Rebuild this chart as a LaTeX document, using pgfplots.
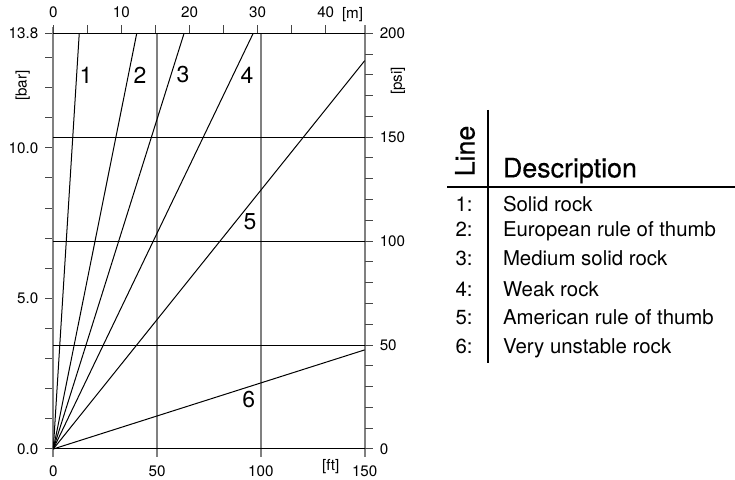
\documentclass[border=0pt]{standalone}
\usepackage{fontspec}
\setmainfont{TeX Gyre Heros}
\newfontfamily\medfont[FakeBold=0.5]{TeX Gyre Heros}
\usepackage{pgfplots}
\pgfplotsset{compat=1.18}

\definecolor{axgray}{RGB}{128,128,128}
\definecolor{tickgray}{RGB}{70,70,70}
\newcommand{\tickfont}{\fontsize{7.6}{9}\selectfont}
\newcommand{\numfont}{\fontsize{11.5}{13}\selectfont}
\newcommand{\tabfont}{\fontsize{10.2}{12}\selectfont}
\newcommand{\headfont}{\medfont\fontsize{13.4}{15}\selectfont}

\pgfplotsset{
  rockaxis/.style={
    at={(26.65pt,15.5pt)}, anchor=south west,
    scale only axis, width=155.7pt, height=207.85pt,
    axis line style={draw=none},
    tick align=outside,
    major tick length=4pt, minor tick length=4pt,
    tick style={tickgray, line width=0.5pt},
    tick label style={font=\tickfont},
    /pgf/number format/assume math mode=true,
    clip=false,
  }
}

\begin{document}
\begin{tikzpicture}
% ft / bar
\begin{axis}[rockaxis,
  xmin=0, xmax=150, ymin=0, ymax=13.8,
  axis x line*=bottom, axis y line*=left,
  xtick={0,50,100,150},
  xticklabel style={yshift=-1pt},
  ytick={0,5,10,13.8},
  minor ytick={1,2,3,4,6,7,8,9,11,12,13},
  yticklabel style={/pgf/number format/fixed,
    /pgf/number format/fixed zerofill, /pgf/number format/precision=1},
]
  % gray verticals
  \draw[axgray, line width=1pt] ([yshift=-4pt]axis cs:0,0) -- ([yshift=3pt]axis cs:0,13.8);
  \draw[axgray, line width=1pt] ([yshift=-4pt]axis cs:50,0) -- (axis cs:50,13.8);
  \draw[axgray, line width=1pt] ([yshift=-4pt]axis cs:100,0) -- (axis cs:100,13.8);
  \draw[axgray, line width=1pt] ([yshift=-4pt]axis cs:150,0) -- ([yshift=4pt]axis cs:150,13.8);
  % black horizontals (0, 50, 100, 150, 200 psi)
  \draw[black, line width=0.5pt] (axis cs:0,0) -- ([xshift=4pt]axis cs:150,0);
  \draw[black, line width=0.5pt] (axis cs:0,3.45) -- ([xshift=4pt]axis cs:150,3.45);
  \draw[black, line width=0.5pt] (axis cs:0,6.9) -- ([xshift=4pt]axis cs:150,6.9);
  \draw[black, line width=0.5pt] (axis cs:0,10.35) -- ([xshift=4pt]axis cs:150,10.35);
  \draw[black, line width=0.5pt] (axis cs:0,13.8) -- ([xshift=4pt]axis cs:150,13.8);
  \addplot[black, line width=0.5pt] coordinates {(0,0) (12.5,13.8)};
  \addplot[black, line width=0.5pt] coordinates {(0,0) (40.2,13.8)};
  \addplot[black, line width=0.5pt] coordinates {(0,0) (63.0,13.8)};
  \addplot[black, line width=0.5pt] coordinates {(0,0) (96.3,13.8)};
  \addplot[black, line width=0.5pt] coordinates {(0,0) (150,12.89)};
  \addplot[black, line width=0.5pt] coordinates {(0,0) (150,3.29)};
  \node[font=\numfont] at (axis cs:15.75,12.42) {1};
  \node[font=\numfont] at (axis cs:41.8,12.42) {2};
  \node[font=\numfont] at (axis cs:62.5,12.42) {3};
  \node[font=\numfont] at (axis cs:93.3,12.42) {4};
  \node[font=\numfont] at (axis cs:94.7,7.54) {5};
  \node[font=\numfont] at (axis cs:94.2,1.63) {6};
\end{axis}
% m / psi
\begin{axis}[rockaxis,
  xmin=0, xmax=45.72, ymin=0, ymax=200,
  axis x line*=top, axis y line*=right,
  xtick={0,10,20,30,40}, minor xtick={5,15,25,35},
  ytick={0,50,100,150,200},
  minor ytick={10,20,30,40,60,70,80,90,110,120,130,140,160,170,180,190},
]
\end{axis}
% unit labels
\node[font=\tickfont, rotate=90] at (11.35pt,197.15pt) {[bar]};
\node[font=\tickfont, rotate=90] at (199pt,199.5pt) {[psi]};
\node[font=\tickfont, anchor=base west, inner sep=0] at (170.8pt,230.8pt) {[m]};
\node[font=\tickfont, anchor=base west, inner sep=0] at (160.85pt,4.5pt) {[ft]};
% description table
\draw[black, line width=0.6pt] (223.5pt,146.5pt) -- (367.5pt,146.5pt);
\draw[black, line width=0.6pt] (244pt,185pt) -- (244pt,58.5pt);
\node[font=\headfont, rotate=90] at (232.5pt,164.5pt) {Line};
\node[font=\headfont, anchor=base west, inner sep=0] at (251.3pt,151.3pt) {Description};
\foreach \n/\y/\t in {1/134.2/Solid rock, 2/121.7/European rule of thumb,
    3/107/Medium solid rock, 4/91.7/Weak rock,
    5/77.5/American rule of thumb, 6/63.3/Very unstable rock}{
  \node[font=\tabfont, anchor=base east, inner sep=0] at (236.5pt,\y pt) {\n:};
  \node[font=\tabfont, anchor=base west, inner sep=0] at (251.3pt,\y pt) {\t};
}
\pgfresetboundingbox
\path (0,0) rectangle (367.5pt,240pt);
\end{tikzpicture}
\end{document}
